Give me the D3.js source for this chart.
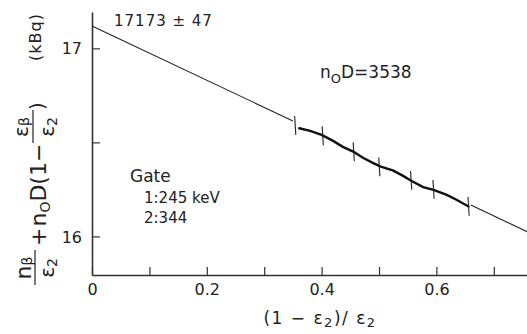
<!DOCTYPE html>
<html>
<head>
<meta charset="utf-8">
<script src="https://cdn.jsdelivr.net/npm/d3@7"></script>
<style>
  body { margin: 0; background: #fff; }
  svg text { font-family: "DejaVu Sans", sans-serif; fill: #222; }
</style>
</head>
<body>
<svg id="drawing_region"></svg>
<script>
// measured points (x = (1-e2)/e2, y in kBq)
const dataX = [0.361, 0.380, 0.400, 0.420, 0.437, 0.455, 0.472, 0.490, 0.502, 0.525, 0.542, 0.556, 0.577, 0.595, 0.618, 0.635, 0.656];
const dataY = [16.575, 16.561, 16.540, 16.508, 16.476, 16.451, 16.418, 16.390, 16.372, 16.350, 16.322, 16.296, 16.262, 16.248, 16.221, 16.195, 16.159];

// error bars
const errX = [0.354, 0.402, 0.456, 0.5005, 0.556, 0.595, 0.656];
const errY = [16.590, 16.535, 16.450, 16.370, 16.298, 16.250, 16.160];
const errD = [0.05, 0.05, 0.05, 0.05, 0.05, 0.05, 0.05];

// fitted line, drawn outside the data range
const fitAX = [0, 0.350];
const fitAY = [17.118, 16.614];
const fitBX = [0.660, 0.758];
const fitBY = [16.167, 16.025];

const xTicks = [0, 0.1, 0.2, 0.3, 0.4, 0.5, 0.6, 0.7];
const xLabels = [0, 0.2, 0.4, 0.6];
const yTicks = [16, 16.5, 17];
const yLabels = [16, 17];

const width = 527, height = 334;

const svg = d3.select('#drawing_region')
    .attr('width', width)
    .attr('height', height);

const x = d3.scaleLinear().domain([0, 0.7578]).range([92, 527]);
const y = d3.scaleLinear().domain([15.795, 17.193]).range([275, 12]);

// axes
const xAxis = d3.axisBottom(x)
    .tickValues(xTicks)
    .tickSizeInner(-8)
    .tickSizeOuter(0)
    .tickPadding(9)
    .tickFormat(d => xLabels.some(v => Math.abs(v - d) < 1e-9) ? (d === 0 ? '0' : d3.format('.1f')(d)) : '');

const yAxis = d3.axisLeft(y)
    .tickValues(yTicks)
    .tickSizeInner(-8)
    .tickSizeOuter(0)
    .tickPadding(10)
    .tickFormat(d => yLabels.includes(d) ? d : '');

const gx = svg.append('g')
    .attr('transform', `translate(0, ${y.range()[0]})`)
    .call(xAxis);
const gy = svg.append('g')
    .attr('transform', `translate(${x.range()[0]}, 0)`)
    .call(yAxis);

[gx, gy].forEach(g => {
    g.select('.domain').attr('stroke', '#333').attr('stroke-width', 1.6);
    g.selectAll('.tick line').attr('stroke', '#333').attr('stroke-width', 1.2);
    g.selectAll('.tick text')
        .style('font-size', '16px')
        .style('font-family', '"DejaVu Sans", sans-serif')
        .attr('fill', '#222');
});
gy.selectAll('.tick text').attr('dy', '0.35em');

// fit line
const line = d3.line().x(d => x(d[0])).y(d => y(d[1]));
[[fitAX, fitAY], [fitBX, fitBY]].forEach(([xs, ys]) => {
    svg.append('path')
        .datum(xs.map((v, i) => [v, ys[i]]))
        .attr('d', line)
        .attr('fill', 'none')
        .attr('stroke', '#222')
        .attr('stroke-width', 1.1);
});

// data trace
svg.append('path')
    .datum(dataX.map((v, i) => [v, dataY[i]]))
    .attr('d', line)
    .attr('fill', 'none')
    .attr('stroke', '#111')
    .attr('stroke-width', 2.4)
    .attr('stroke-linecap', 'round');

svg.selectAll('.err')
    .data(errX.map((v, i) => ({x: v, y: errY[i], d: errD[i]})))
    .join('line')
    .attr('class', 'err')
    .attr('x1', d => x(d.x) - 0.6)
    .attr('x2', d => x(d.x) + 0.6)
    .attr('y1', d => y(d.y + d.d))
    .attr('y2', d => y(d.y - d.d))
    .attr('stroke', '#222')
    .attr('stroke-width', 1.1);

// annotations
svg.append('text')
    .attr('x', 114).attr('y', 26)
    .style('font-size', '15px')
    .style('letter-spacing', '1px')
    .text('17173 ± 47');

const n0 = svg.append('text')
    .attr('x', 320).attr('y', 78)
    .style('font-size', '17px');
n0.append('tspan').text('n');
n0.append('tspan').attr('dy', 5).style('font-size', '13px').text('O');
n0.append('tspan').attr('dy', -5).text('D=3538');

svg.append('text').attr('x', 130).attr('y', 182).style('font-size', '17px').text('Gate');
svg.append('text').attr('x', 144).attr('y', 203).style('font-size', '15px').text('1:245 keV');
svg.append('text').attr('x', 144).attr('y', 223).style('font-size', '15px').text('2:344');

// x title
const xt = svg.append('text')
    .attr('x', 320).attr('y', 324)
    .attr('text-anchor', 'middle')
    .style('font-size', '17px')
    .style('letter-spacing', '1.5px');
xt.append('tspan').text('(1 − ε');
xt.append('tspan').attr('dy', 3).style('font-size', '13px').text('2');
xt.append('tspan').attr('dy', -3).text(')/ ε');
xt.append('tspan').attr('dy', 3).style('font-size', '13px').text('2');

// y title, rotated: rotated coords x' = -Y, y' = X
const yt = svg.append('g').attr('transform', 'rotate(-90)');

// first fraction n_beta / e2
yt.append('text').attr('x', -268).attr('y', 31).attr('text-anchor', 'middle')
    .style('font-size', '22px')
    .call(t => {
        t.append('tspan').text('n');
        t.append('tspan').attr('dy', 1).style('font-size', '14px').text('β');
    });
yt.append('line').attr('x1', -285).attr('x2', -250).attr('y1', 35).attr('y2', 35)
    .attr('stroke', '#222').attr('stroke-width', 1.2);
yt.append('text').attr('x', -268).attr('y', 54).attr('text-anchor', 'middle')
    .style('font-size', '20px')
    .call(t => {
        t.append('tspan').text('ε');
        t.append('tspan').attr('dy', 3).style('font-size', '14px').text('2');
    });

// + n0 D (1 -
yt.append('text').attr('x', -246).attr('y', 46)
    .style('font-size', '22px')
    .call(t => {
        t.append('tspan').text('+');
        t.append('tspan').attr('dx', 1).text('n');
        t.append('tspan').attr('dy', 4).style('font-size', '14px').text('O');
        t.append('tspan').attr('dy', -4).text('D(1−');
    });

// second fraction e_beta / e2
yt.append('text').attr('x', -127).attr('y', 28).attr('text-anchor', 'middle')
    .style('font-size', '20px')
    .call(t => {
        t.append('tspan').text('ε');
        t.append('tspan').attr('dy', 1).style('font-size', '14px').text('β');
    });
yt.append('line').attr('x1', -143).attr('x2', -110).attr('y1', 33).attr('y2', 33)
    .attr('stroke', '#222').attr('stroke-width', 1.2);
yt.append('text').attr('x', -127).attr('y', 54).attr('text-anchor', 'middle')
    .style('font-size', '20px')
    .call(t => {
        t.append('tspan').text('ε');
        t.append('tspan').attr('dy', 3).style('font-size', '14px').text('2');
    });
yt.append('text').attr('x', -110).attr('y', 44)
    .style('font-size', '20px').text(')');

yt.append('text').attr('x', -37).attr('y', 41).attr('text-anchor', 'middle')
    .style('font-size', '16px').style('letter-spacing', '1px').text('(kBq)');
</script>
</body>
</html>
